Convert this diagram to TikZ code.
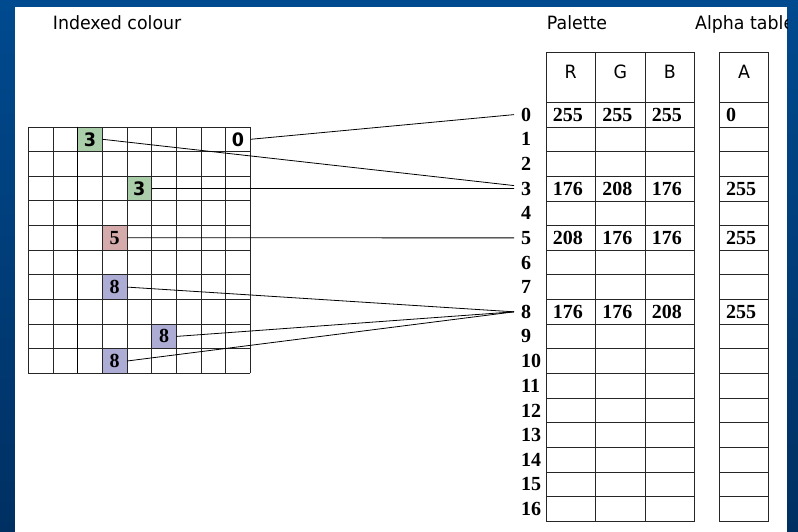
\documentclass[tikz,border=0pt]{standalone}
\usepackage{fontspec}
\setmainfont{Liberation Serif}
\newfontfamily\tahoma[FakeStretch=0.95]{DejaVu Sans}
\definecolor{cellgreen}{RGB}{170,206,170}
\definecolor{cellpink}{RGB}{212,170,170}
\definecolor{cellblue}{RGB}{172,172,212}
\definecolor{frametop}{RGB}{0,74,143}
\definecolor{framebot}{RGB}{0,48,98}
\begin{document}
\begin{tikzpicture}[x=1pt,y=-1pt,
  title/.style={anchor=base west, inner sep=0pt, font=\tahoma\fontsize{18.3}{22}\selectfont},
  head/.style={inner sep=0pt, font=\tahoma\fontsize{18.3}{22}\selectfont},
  gridline/.style={line width=0.8pt, draw=black!85},
  thickline/.style={line width=1.6pt, draw=black},
  cellbox/.style={minimum width=24.67pt, minimum height=24.63pt, inner sep=0pt, font=\bfseries\fontsize{20}{22}\selectfont},
  sanscell/.style={cellbox, font=\tahoma\bfseries\fontsize{18.5}{22}\selectfont},
  idx/.style={anchor=west, inner xsep=7pt, inner ysep=0pt, font=\bfseries\fontsize{20}{22}\selectfont},
  val/.style={anchor=west, inner sep=0pt, font=\bfseries\fontsize{20}{22}\selectfont},
  link/.style={line width=0.8pt, draw=black}
]
\useasboundingbox (0,0) rectangle (798,532);
\shade[top color=frametop, bottom color=framebot] (0,0) rectangle (798,532);
\fill[white] (15,7) rectangle (787,532);
\begin{scope}
\clip (15,7) rectangle (787,532);
% titles
\node[title] (t1) at (52.7,29.3) {Indexed colour};
\node[title] (t2) at (546.7,29.3) {Palette};
\node[title] (t3) at (695,29.3) {Alpha table};
% grid cells with values
\node[sanscell, fill=cellgreen] (g3a) at (89.97,139.3) {3};
\node[sanscell] (g0) at (238.0,139.3) {0};
\node[sanscell, fill=cellgreen] (g3b) at (139.3,188.6) {3};
\node[cellbox, fill=cellpink] (g5) at (114.6,237.8) {5};
\node[cellbox, fill=cellblue] (g8a) at (114.6,287.1) {8};
\node[cellbox, fill=cellblue] (g8b) at (164.0,336.4) {8};
\node[cellbox, fill=cellblue] (g8c) at (114.6,361.0) {8};
% grid lines
\foreach \c in {0,...,9} \draw[gridline] ({28.3+\c*24.67},127) -- ({28.3+\c*24.67},373.3);
\foreach \r in {0,...,10} \draw[gridline] (28.3,{127+\r*24.63}) -- (250.3,{127+\r*24.63});
\draw[thickline] ({28.3+2*24.67},127) -- ({28.3+2*24.67},373.3);
% palette table
\draw[gridline] (546,52.7) -- (694.5,52.7);
\draw[gridline] (719.3,52.7) -- (768.8,52.7);
\foreach \k in {0,...,17} {
  \draw[gridline] (546,{102.3+\k*24.65}) -- (694.5,{102.3+\k*24.65});
  \draw[gridline] (719.3,{102.3+\k*24.65}) -- (768.8,{102.3+\k*24.65});
}
\foreach \x in {546,595.5,645,694.5,719.3,768.8} \draw[gridline] (\x,52.7) -- (\x,521.35);
% headers
\node[head] (hR) at (570.75,72.2) {R};
\node[head] (hG) at (620.25,72.2) {G};
\node[head] (hB) at (669.75,72.2) {B};
\node[head] (hA) at (744.05,72.2) {A};
% index labels
\foreach \k in {0,...,16} \node[idx] (i\k) at (514,{102.3+(\k+0.5)*24.65}) {\k};
% values
\node[val] (v0r) at (552.7,114.6) {255};
\node[val] (v0g) at (602.2,114.6) {255};
\node[val] (v0b) at (651.7,114.6) {255};
\node[val] (v0a) at (726.0,114.6) {0};
\node[val] (v3r) at (552.7,188.6) {176};
\node[val] (v3g) at (602.2,188.6) {208};
\node[val] (v3b) at (651.7,188.6) {176};
\node[val] (v3a) at (726.0,188.6) {255};
\node[val] (v5r) at (552.7,237.9) {208};
\node[val] (v5g) at (602.2,237.9) {176};
\node[val] (v5b) at (651.7,237.9) {176};
\node[val] (v5a) at (726.0,237.9) {255};
\node[val] (v8r) at (552.7,311.9) {176};
\node[val] (v8g) at (602.2,311.9) {176};
\node[val] (v8b) at (651.7,311.9) {208};
\node[val] (v8a) at (726.0,311.9) {255};
% connectors
\draw[link] (g0.east) -- (i0.west);
\draw[link] (g3a.east) -- ([yshift=3pt]i3.west);
\draw[link] (g3b.east) -- (i3.west);
\draw[link] (g5.east) -- (i5.west);
\draw[link] (g8a.east) -- (i8.west);
\draw[link] (g8b.east) -- (i8.west);
\draw[link] (g8c.east) -- (i8.west);
\end{scope}
\end{tikzpicture}
\end{document}
